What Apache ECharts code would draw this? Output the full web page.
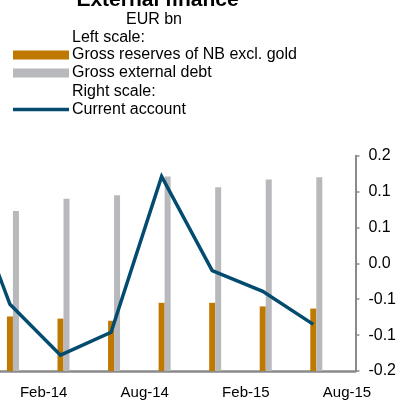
<!DOCTYPE html>
<html>
<head>
<meta charset="utf-8">
<script src="https://cdn.jsdelivr.net/npm/echarts@6/dist/echarts.min.js"></script>
<style>
  html, body { margin: 0; padding: 0; background: #fff; }
  #chart { width: 399px; height: 400px; }
</style>
</head>
<body>
<div id="chart"></div>
<script>
// Quarterly observations (month-year)
var periods = ['Sep-13', 'Dec-13', 'Mar-14', 'Jun-14', 'Sep-14', 'Dec-14', 'Mar-15', 'Jun-15'];
// Left scale, EUR bn
var grossReserves = [null, 7.6, 7.3, 7.0, 9.5, 9.5, 9.0, 8.7];
var grossExternalDebt = [null, 22.3, 24.0, 24.5, 27.1, 25.6, 26.7, 27.0];
// Right scale, EUR bn
var currentAccount = [0.13, -0.057, -0.128, -0.096, 0.121, -0.010, -0.039, -0.085];
// Axis tick labels
var dateTicks = ['Feb-14', 'Aug-14', 'Feb-15', 'Aug-15'];
var rightTicks = ['-0.2', '-0.1', '-0.1', '0.0', '0.1', '0.1', '0.2'];

var MONTHS = ['Jan','Feb','Mar','Apr','May','Jun','Jul','Aug','Sep','Oct','Nov','Dec'];
// months counted from Feb-13
function monthIndex(label) {
  var p = label.split('-');
  return (2000 + parseInt(p[1], 10) - 2013) * 12 + MONTHS.indexOf(p[0]) - 1;
}
function pairs(values) {
  return periods.map(function (p, i) { return [monthIndex(p), values[i]]; });
}

var FONT = '"Liberation Sans", Arial, sans-serif';
var chart = echarts.init(document.getElementById('chart'), null, { renderer: 'canvas' });

chart.setOption({
  animation: false,
  backgroundColor: '#ffffff',
  textStyle: { fontFamily: FONT },
  title: {
    text: 'External finance',
    left: 152.5,
    textAlign: 'center',
    top: -15,
    textStyle: { fontFamily: FONT, fontSize: 21, fontWeight: 'bold', color: '#000' }
  },
  graphic: [
    { type: 'text', x: 154, y: 20, style: { text: 'EUR bn', font: '16px ' + FONT, fill: '#000', align: 'center', verticalAlign: 'middle' } },
    { type: 'text', x: 72, y: 37.5, style: { text: 'Left scale:', font: '16px ' + FONT, fill: '#000', align: 'left', verticalAlign: 'middle' } },
    { type: 'text', x: 72, y: 92, style: { text: 'Right scale:', font: '16px ' + FONT, fill: '#000', align: 'left', verticalAlign: 'middle' } }
  ],
  legend: [
    {
      data: ['Gross reserves of NB excl. gold', 'Gross external debt'],
      orient: 'vertical',
      left: 13,
      top: 47,
      padding: 0,
      itemWidth: 56,
      itemHeight: 9,
      itemGap: 2,
      icon: 'rect',
      selectedMode: false,
      textStyle: { fontFamily: FONT, fontSize: 16, lineHeight: 16, color: '#000', padding: [0, 0, 0, -2] }
    },
    {
      data: ['Current account'],
      orient: 'vertical',
      left: 13,
      top: 101.5,
      padding: 0,
      itemWidth: 56,
      itemHeight: 3.5,
      icon: 'rect',
      selectedMode: false,
      textStyle: { fontFamily: FONT, fontSize: 16, lineHeight: 16, color: '#000', padding: [0, 0, 0, -2] }
    }
  ],
  grid: { left: 0, right: 43.3, top: 155.7, bottom: 28.3, containLabel: false },
  xAxis: {
    type: 'value',
    min: 9.41,
    max: 30.5,
    axisLine: { show: true, onZero: false, lineStyle: { color: '#8a8a8a', width: 2.5 } },
    axisTick: { show: false },
    splitLine: { show: false },
    axisLabel: {
      margin: 14,
      fontSize: 15,
      color: '#000',
      fontFamily: FONT,
      customValues: dateTicks.map(monthIndex),
      formatter: function (v) {
        for (var i = 0; i < dateTicks.length; i++) {
          if (monthIndex(dateTicks[i]) === Math.round(v)) return dateTicks[i];
        }
        return '';
      }
    }
  },
  yAxis: [
    {
      type: 'value',
      show: false,
      min: 0,
      max: 30,
      interval: 5,
      splitLine: { show: false }
    },
    {
      type: 'value',
      position: 'right',
      min: -0.15,
      max: 0.15,
      interval: 0.05,
      axisLine: { show: true, onZero: false, lineStyle: { color: '#8a8a8a', width: 2 } },
      axisTick: { show: true, inside: false, length: 4, lineStyle: { color: '#8a8a8a', width: 1.5 } },
      splitLine: { show: false },
      axisLabel: {
        margin: 13,
        fontSize: 16,
        color: '#000',
        fontFamily: FONT,
        formatter: function (v) {
          return rightTicks[Math.round((v + 0.15) / 0.05)];
        }
      }
    }
  ],
  series: [
    {
      // empty leading column so the reserves bar sits centred on its date
      id: 'lead-slot',
      type: 'bar',
      yAxisIndex: 0,
      barWidth: 6,
      barGap: '0%',
      silent: true,
      data: []
    },
    {
      name: 'Gross reserves of NB excl. gold',
      type: 'bar',
      yAxisIndex: 0,
      barWidth: 6,
      barGap: '0%',
      itemStyle: { color: '#BF7800' },
      data: pairs(grossReserves)
    },
    {
      name: 'Gross external debt',
      type: 'bar',
      yAxisIndex: 0,
      barWidth: 6,
      barGap: '0%',
      itemStyle: { color: '#B8B9BD' },
      data: pairs(grossExternalDebt)
    },
    {
      name: 'Current account',
      type: 'line',
      yAxisIndex: 1,
      symbol: 'none',
      clip: true,
      itemStyle: { color: '#044B70' },
      lineStyle: { color: '#044B70', width: 3.5, join: 'miter' },
      z: 5,
      data: pairs(currentAccount)
    }
  ]
});
</script>
</body>
</html>
